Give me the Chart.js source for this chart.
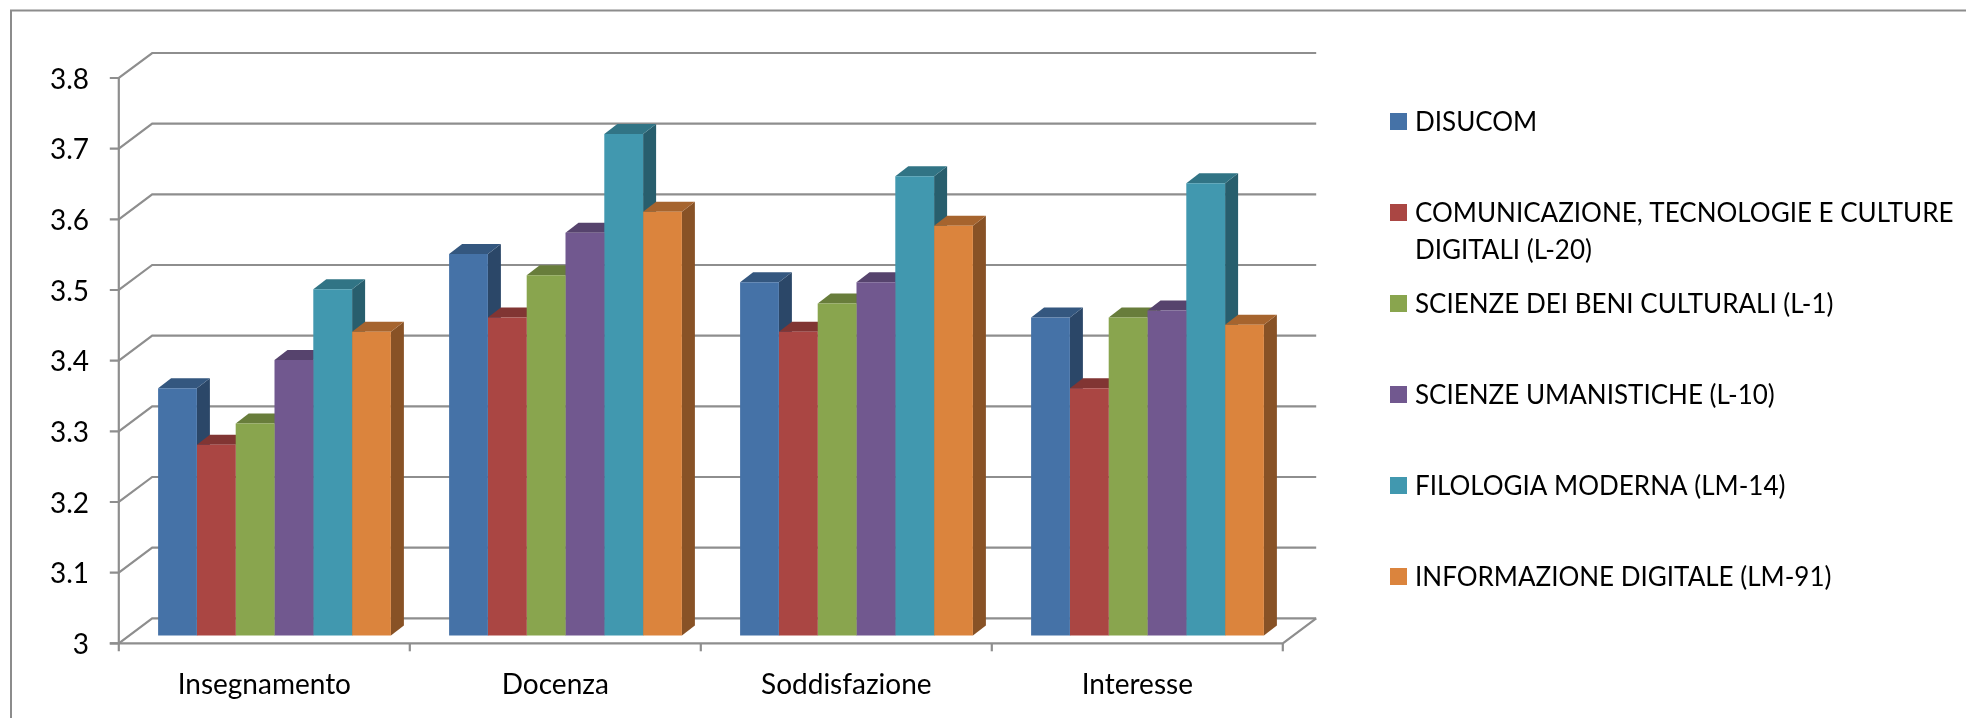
<!DOCTYPE html>
<html>
<head>
<meta charset="utf-8">
<style>html,body{margin:0;padding:0;background:#fff}canvas{display:block}</style>
<script src="https://cdn.jsdelivr.net/npm/chart.js@4"></script>
</head>
<body>
<canvas id="c" width="1966" height="718"></canvas>
<script>
const categories = ["Insegnamento", "Docenza", "Soddisfazione", "Interesse"];
const disucom = [3.35, 3.54, 3.50, 3.45];
const comunicazione = [3.27, 3.45, 3.43, 3.35];
const beniCulturali = [3.30, 3.51, 3.47, 3.45];
const umanistiche = [3.39, 3.57, 3.50, 3.46];
const filologia = [3.49, 3.71, 3.65, 3.64];
const informazione = [3.43, 3.60, 3.58, 3.44];
const yTicks = [3, 3.1, 3.2, 3.3, 3.4, 3.5, 3.6, 3.7, 3.8];

const FONT = 'Lato';
const AXIS_SIZE = 28, LEGEND_SIZE = 26;
const GRID = '#8e8e8e';
// 3D projection offsets, in pixels
const FRONT_DX = -10.2, FRONT_DY = 7.7;   // bar plane -> front of floor
const BACK_DX = 23.2, BACK_DY = -17.3;    // bar plane -> back wall
const BAR_DX = 13, BAR_DY = -10;          // depth of each bar

function shade(hex, f) {
  const n = parseInt(hex.slice(1), 16);
  return 'rgb(' + [(n >> 16) & 255, (n >> 8) & 255, n & 255].map(v => Math.round(v * f)).join(',') + ')';
}

function line(ctx, pts) {
  ctx.beginPath();
  pts.forEach((p, i) => i ? ctx.lineTo(p[0], p[1]) : ctx.moveTo(p[0], p[1]));
  ctx.stroke();
}

const frame3d = {
  id: 'frame3d',
  beforeDatasetsDraw(chart) {
    const { ctx, scales: { x, y } } = chart;
    ctx.save();
    // outer frame
    ctx.strokeStyle = '#8c8c8c';
    ctx.lineWidth = 2;
    line(ctx, [[11, 718], [11, 10.5], [1966, 10.5]]);
    // walls and grid
    ctx.strokeStyle = GRID;
    ctx.lineWidth = 2.2;
    const fl = x.left + FRONT_DX, fr = x.right + FRONT_DX;
    const bl = x.left + BACK_DX, br = x.right + BACK_DX;
    y.ticks.forEach(t => {
      const p = y.getPixelForValue(t.value);
      line(ctx, [[fl - 9, p + FRONT_DY], [fl, p + FRONT_DY], [bl, p + BACK_DY], [br, p + BACK_DY]]);
    });
    const p0 = y.getPixelForValue(yTicks[0]), pN = y.getPixelForValue(yTicks[yTicks.length - 1]);
    line(ctx, [[fl, pN + FRONT_DY], [fl, p0 + FRONT_DY + 8]]);
    line(ctx, [[fl - 9, p0 + FRONT_DY], [fr, p0 + FRONT_DY], [br, p0 + BACK_DY]]);
    const step = (x.right - x.left) / categories.length;
    for (let i = 1; i <= categories.length; i++) {
      const px = x.left + step * i + FRONT_DX;
      line(ctx, [[px, p0 + FRONT_DY], [px, p0 + FRONT_DY + 8]]);
    }
    // bar tops and sides, left to right
    for (let i = 0; i < categories.length; i++) {
      chart.data.datasets.forEach((ds, d) => {
        const b = chart.getDatasetMeta(d).data[i];
        const l = b.x - b.width / 2, r = b.x + b.width / 2, t = b.y, bt = p0;
        ctx.fillStyle = shade(ds.backgroundColor, 0.62);
        ctx.beginPath();
        ctx.moveTo(r, t); ctx.lineTo(r + BAR_DX, t + BAR_DY);
        ctx.lineTo(r + BAR_DX, bt + BAR_DY); ctx.lineTo(r, bt);
        ctx.closePath(); ctx.fill();
        ctx.fillStyle = shade(ds.backgroundColor, 0.76);
        ctx.beginPath();
        ctx.moveTo(l, t); ctx.lineTo(l + BAR_DX, t + BAR_DY);
        ctx.lineTo(r + BAR_DX, t + BAR_DY); ctx.lineTo(r, t);
        ctx.closePath(); ctx.fill();
      });
    }
    ctx.restore();
  },
  afterDraw(chart) {
    const { ctx } = chart;
    ctx.save();
    ctx.font = LEGEND_SIZE + 'px ' + FONT;
    ctx.textBaseline = 'middle';
    ctx.textAlign = 'left';
    const boxX = 1390, boxS = 17, textX = 1415, top = 121.5, pitch = 91, leading = 37, maxW = 545;
    chart.data.datasets.forEach((ds, i) => {
      const cy = top + pitch * i;
      ctx.fillStyle = ds.backgroundColor;
      ctx.fillRect(boxX, cy - boxS / 2, boxS, boxS);
      ctx.fillStyle = '#000';
      const lines = [];
      let cur = '';
      ds.label.split(' ').forEach(w => {
        const test = cur ? cur + ' ' + w : w;
        if (ctx.measureText(test).width > maxW && cur) { lines.push(cur); cur = w; } else cur = test;
      });
      lines.push(cur);
      lines.forEach((s, k) => ctx.fillText(s, textX, cy + 1 + k * leading));
    });
    ctx.restore();
  }
};

new Chart(document.getElementById('c'), {
  type: 'bar',
  plugins: [frame3d],
  data: {
    labels: categories,
    datasets: [
      { label: 'DISUCOM', data: disucom, backgroundColor: '#4572A7' },
      { label: 'COMUNICAZIONE, TECNOLOGIE E CULTURE DIGITALI (L-20)', data: comunicazione, backgroundColor: '#AA4643' },
      { label: 'SCIENZE DEI BENI CULTURALI (L-1)', data: beniCulturali, backgroundColor: '#89A54E' },
      { label: 'SCIENZE UMANISTICHE (L-10)', data: umanistiche, backgroundColor: '#71588F' },
      { label: 'FILOLOGIA MODERNA (LM-14)', data: filologia, backgroundColor: '#4198AF' },
      { label: 'INFORMAZIONE DIGITALE (LM-91)', data: informazione, backgroundColor: '#DB843D' }
    ]
  },
  options: {
    responsive: false,
    animation: false,
    layout: { padding: { top: 70.3, right: 673, left: 0, bottom: 0 } },
    datasets: { bar: { categoryPercentage: 0.8, barPercentage: 1, borderWidth: 0 } },
    plugins: { legend: { display: false }, title: { display: false }, tooltip: { enabled: false } },
    scales: {
      x: {
        grid: { display: false },
        border: { display: false },
        afterFit: s => { s.height = 718 - 635.6; },
        ticks: { color: '#000', font: { family: FONT, size: AXIS_SIZE }, padding: 25, labelOffset: FRONT_DX, maxRotation: 0 }
      },
      y: {
        min: yTicks[0],
        max: yTicks[yTicks.length - 1],
        grid: { display: false },
        border: { display: false },
        afterBuildTicks: s => { s.ticks = yTicks.map(v => ({ value: v })); },
        afterFit: s => { s.width = 129; },
        ticks: { color: '#000', font: { family: FONT, size: AXIS_SIZE }, padding: 32, labelOffset: FRONT_DY + 1.5, callback: v => String(v) }
      }
    }
  }
});
</script>
</body>
</html>
